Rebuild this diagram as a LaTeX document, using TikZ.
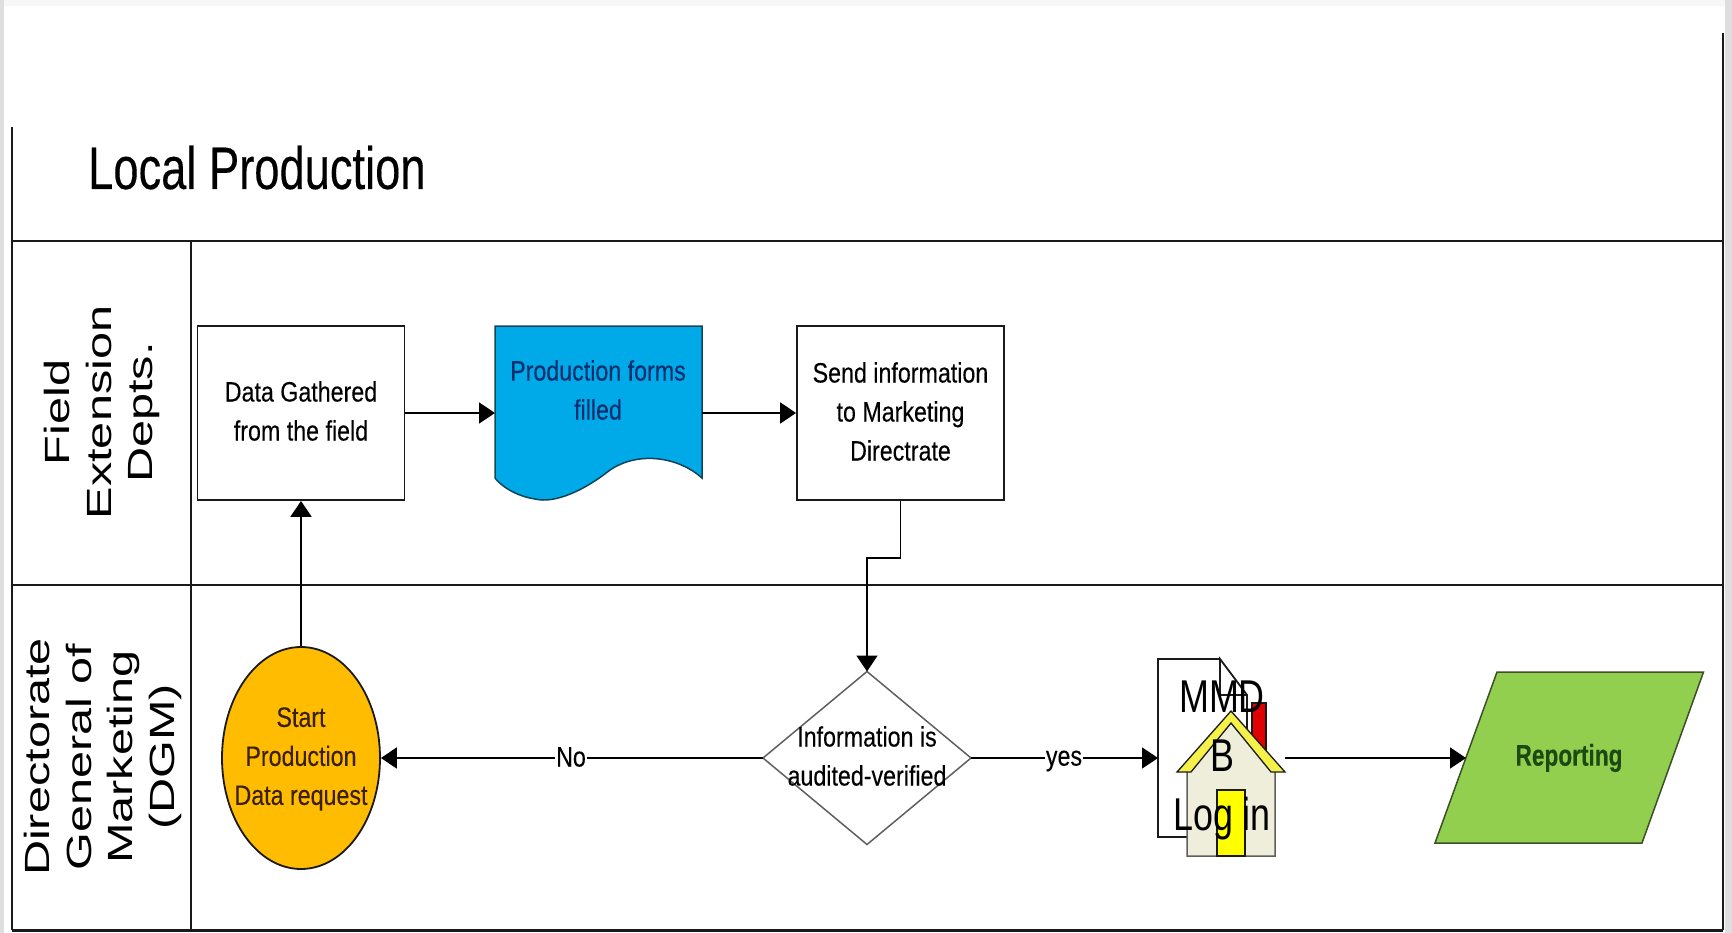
\documentclass[tikz,border=0pt]{standalone}
\usepackage{fontspec}
\usetikzlibrary{arrows.meta,shapes.geometric}
\setmainfont{Liberation Sans}
\newfontfamily\cond[FakeStretch=0.83,FakeBold=0.2]{Liberation Sans}
\newfontfamily\condlight[FakeStretch=0.78]{Liberation Sans}
\newfontfamily\titlefont[FakeStretch=0.755,FakeBold=0.2]{Liberation Sans}
\newfontfamily\wide[FakeStretch=1.39]{Liberation Sans}
\definecolor{line}{HTML}{1A1A1A}
\definecolor{ablue}{HTML}{00A9E8}
\definecolor{agold}{HTML}{FFBC00}
\definecolor{agreen}{HTML}{92CF4E}
\definecolor{ared}{HTML}{E00000}
\definecolor{ayellow}{HTML}{FFFF00}
\definecolor{aroof}{HTML}{F5F04A}
\definecolor{awall}{HTML}{EEEEDA}
\definecolor{navy}{HTML}{0B2E6E}
\definecolor{darkgreen}{HTML}{1C4A12}
\definecolor{darkbrown}{HTML}{3A2000}
\tikzset{
 frame/.style={line width=1.8pt,draw=line},
 shapeline/.style={line width=1.8pt,draw=line},
 conn/.style={line width=1.8pt,draw=black,-{Triangle[length=16pt,width=21pt]},shorten >=0pt},
 body/.style={font=\cond\fontsize{28}{39}\selectfont,align=center,inner sep=0pt},
 boxnode/.style={rectangle,shapeline,inner sep=0pt,minimum width=207pt,minimum height=174pt},
 lane/.style={font=\wide\fontsize{35}{41.5}\selectfont,align=center,rotate=90,inner sep=0pt},
 big/.style={font=\condlight\fontsize{46}{60}\selectfont,align=center,inner sep=0pt},
 edgelabel/.style={font=\cond\fontsize{28}{39}\selectfont,fill=white,inner sep=1pt},
}
\begin{document}
\begin{tikzpicture}[x=1pt,y=-1pt]
\useasboundingbox (0,0) rectangle (1732,933);
% page edges
\fill[black!13] (0,0) rectangle (4,933);
\fill[black!3] (4,0) rectangle (1732,6);
\fill[black!13] (1725,0) rectangle (1732,933);
% frame
\draw[frame,line width=2.2pt] (12,127) -- (12,930);
\draw[frame,line width=2.2pt] (1723,33) -- (1723,930);
\draw[frame,line width=3pt] (12,930) -- (1723,930);
\draw[frame] (12,241) -- (1723,241);
\draw[frame] (12,585) -- (1723,585);
\draw[frame] (191,241) -- (191,930);
\node[anchor=base west,font=\titlefont\fontsize{60}{60}\selectfont,inner sep=0pt] (title) at (88,189) {Local Production};
\node[lane] (lane1) at (102,412.5) {Field\\Extension\\Depts.};
\node[lane] (lane2) at (103,757) {Directorate\\General of\\Marketing\\(DGM)};
% process boxes
\node[boxnode] (data) at (301,413) {};
\node[body] (datatext) at (301,411) {Data Gathered\\from the field};
\node[boxnode] (send) at (900.5,413) {};
\node[body] (sendtext) at (900.5,411.5) {Send information\\to Marketing\\Directrate};
% document
\node[rectangle,minimum width=207pt,minimum height=174pt,inner sep=0pt,outer sep=0pt] (doc) at (598.5,413) {};
\fill[ablue,draw=line!70!ablue,line width=1.5pt] (doc.north west) -- (doc.north east) -- (702,478)
  .. controls (680,458) and (640,450) .. (610,470)
  .. controls (585,490) and (555,504) .. (535,499)
  .. controls (515,496) and (500,485) .. (495,478) -- cycle;
\node[body,text=navy] (doctext) at (598,390) {Production forms\\filled};
% start
\node[ellipse,shapeline,fill=agold,minimum width=158pt,minimum height=222pt,inner sep=0pt] (start) at (301,758) {};
\node[body,text=darkbrown] (starttext) at (301,759) {Start\\Production\\Data request};
% decision
\node[rectangle,minimum width=208pt,minimum height=173pt,inner sep=0pt,outer sep=0pt] (dec) at (867,758) {};
\draw[draw=line!70,line width=1.5pt] (dec.west) -- (dec.north) -- (dec.east) -- (dec.south) -- cycle;
\node[body] (dectext) at (867,756) {Information is\\audited-verified};
% reporting
\node[rectangle,minimum width=268pt,minimum height=171pt,inner sep=0pt] (rep) at (1569,757.5) {};
\fill[agreen,draw=line!70!agreen,line width=1.5pt] (1497,672) -- (1703.5,672) -- (1642,843) -- (1435,843) -- cycle;
\coordinate (repin) at (1466,758);
\node[body,font=\titlefont\bfseries\fontsize{30}{39}\selectfont,text=darkgreen] (reptext) at (1569,758) {Reporting};
% MMB document and login house
\node[rectangle,minimum width=89pt,minimum height=178pt,inner sep=0pt,anchor=north west] (mmb) at (1158,659) {};
\draw[shapeline] (1220,659) -- (1158,659) -- (1158,837) -- (1247,837) -- (1247,695) -- (1220,659) -- (1220,695) -- (1247,695);
\fill[ared,draw=line,line width=1.2pt] (1252,703) rectangle (1266,760);
\fill[awall,draw=line!70,line width=1.5pt] (1187,772) -- (1231,723) -- (1275,772) -- (1275,856) -- (1187,856) -- cycle;
\fill[aroof,draw=line,line width=1.3pt] (1231,711) -- (1285,772) -- (1271,772) -- (1231,723) -- (1191,772) -- (1177,772) -- cycle;
\fill[ayellow,draw=line,line width=2pt] (1217,790) rectangle (1245,856);
\coordinate (houseout) at (1285,758);
\node[big] (mmbtext) at (1222,697) {MMD};
\node[big] (btext) at (1222,756) {B};
\node[big] (logtext) at (1222,819) {Log in};
% connectors
\draw[conn] (data.east) -- (doc.west);
\draw[conn] (doc.east) -- (send.west);
\draw[conn] (start.north) -- (data.south);
\draw[conn] (send.south) -- (send.south |- 0,558) -| (dec.north);
\draw[conn] (dec.west) -- (start.east);
\node[edgelabel] (no) at (571,757) {No};
\draw[conn] (dec.east) -- (mmb.west |- dec.east);
\node[edgelabel] (yes) at (1064,761) {yes};
\draw[conn] (houseout) -- (repin);
\end{tikzpicture}
\end{document}
